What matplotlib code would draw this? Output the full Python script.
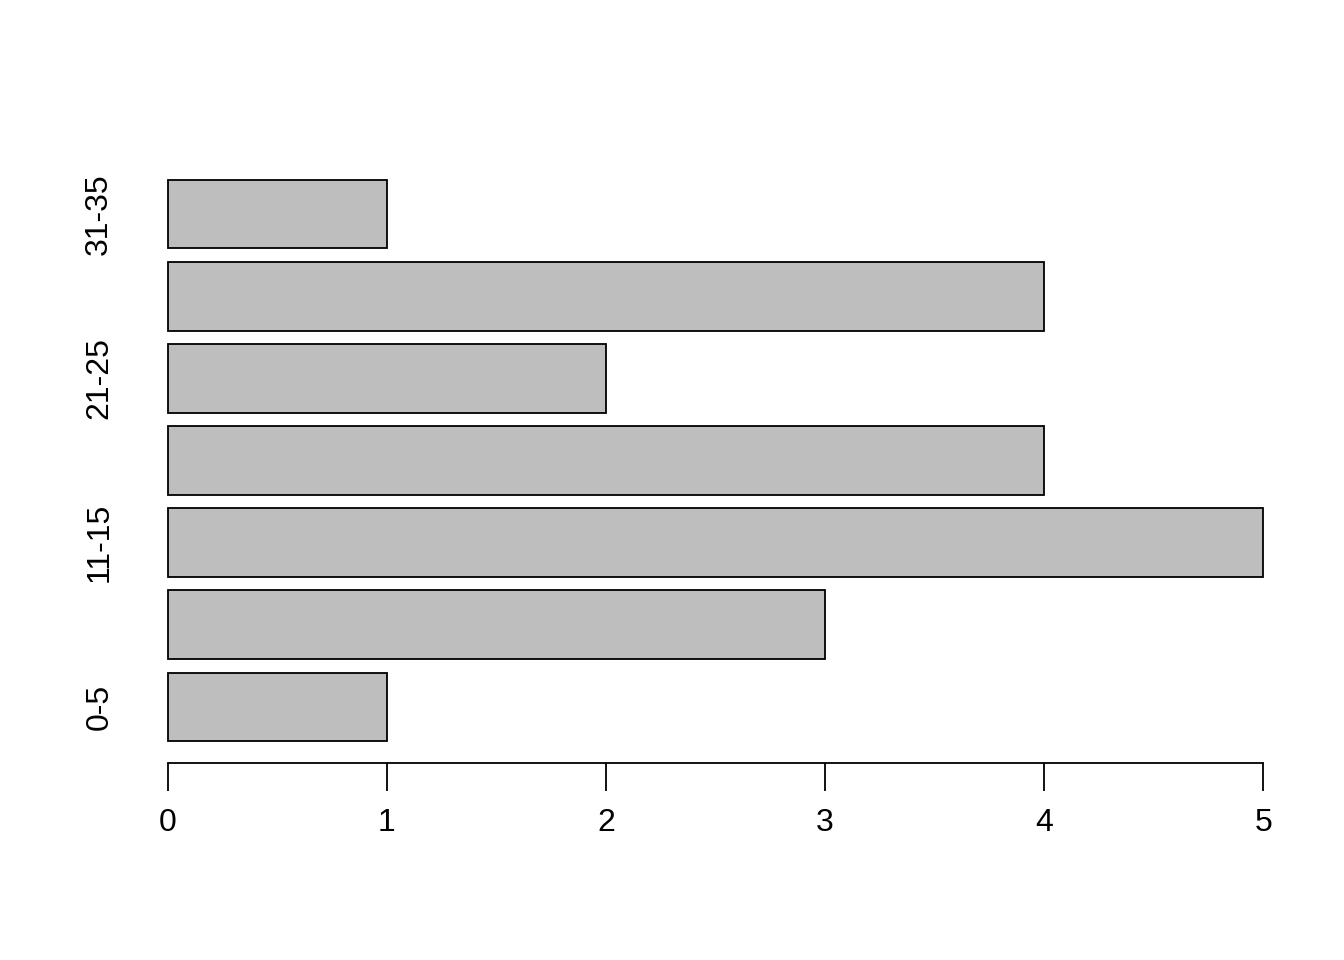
import matplotlib
matplotlib.use("Agg")
import matplotlib.pyplot as plt

# bar categories (bottom to top) and counts
categories = ["0-5", "6-10", "11-15", "16-20", "21-25", "26-30", "31-35"]
counts = [1, 3, 5, 4, 2, 4, 1]
x_ticks = [0, 1, 2, 3, 4, 5]

plt.rcParams['font.family'] = ['Liberation Sans', 'DejaVu Sans']

fig = plt.figure(figsize=(13.44, 9.6), dpi=100)
ax = fig.add_axes([124 / 1344, 1 - 763.4 / 960, (1307 - 124) / 1344, (763.4 - 157.6) / 960])

# R barplot layout: width 1, space 0.2
centers = [0.7 + 1.2 * i for i in range(len(categories))]
ax.barh(centers, counts, height=1.0, color="#bebebe", edgecolor="black", linewidth=1.3)

ax.set_xlim(-0.2, 5.2)
ax.set_ylim(0.2 - 0.328, 8.4 + 0.328)

for s in ["top", "right", "left"]:
    ax.spines[s].set_visible(False)
ax.spines["bottom"].set_bounds(0, 5)
ax.spines["bottom"].set_linewidth(1.3)

ax.set_xticks(x_ticks)
ax.set_xticklabels([str(t) for t in x_ticks], fontsize=23)
ax.tick_params(axis="x", length=20, width=1.3, pad=12)

# R drops overlapping labels: only every other one is shown
ax.set_yticks(centers)
ax.set_yticklabels([c if i % 2 == 0 else "" for i, c in enumerate(categories)],
                   rotation=90, va="center", fontsize=23)
ax.tick_params(axis="y", length=0, pad=7)

fig.savefig("out.png", dpi=100)
